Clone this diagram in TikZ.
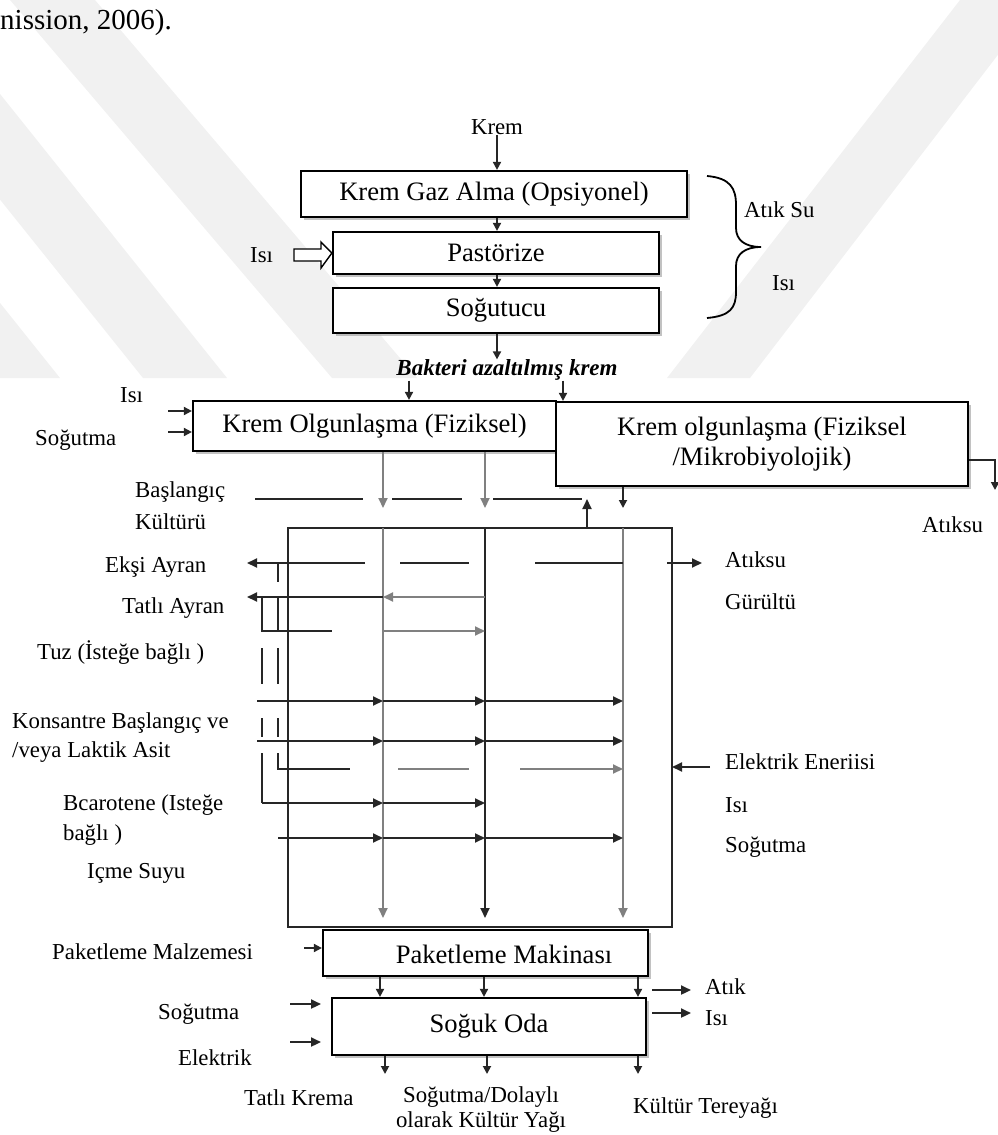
\documentclass[tikz,border=0pt]{standalone}
\usepackage{fontspec}
\setmainfont{Liberation Serif}
\usetikzlibrary{arrows.meta,shadows}
\definecolor{wmark}{HTML}{F1F1F1}
\begin{document}
\begin{tikzpicture}[x=1pt,y=-1pt,
  lbl/.style={font=\fontsize{22.8}{26}\selectfont, inner sep=0pt, anchor=west},
  boxtxt/.style={font=\fontsize{26.6}{30}\selectfont},
  procbox/.style={draw, line width=2.2pt, fill=white, inner sep=0pt,
    drop shadow={shadow xshift=3pt, shadow yshift=-3pt, fill=black!40, opacity=.6}},
  tip/.style={-{Triangle[length=10pt,width=9pt]}},
  smalltip/.style={-{Triangle[length=8pt,width=8pt]}},
  ln/.style={line width=1.8pt, draw=black!85},
  lng/.style={line width=2pt, draw=black!50},
  band/.style={fill=wmark, draw=none},
]
\useasboundingbox (0,0) rectangle (998,1135);

% faint diagonal stripes of the page background
\begin{scope}
  \clip (0,0) rectangle (998,378);
  \fill[band] (-302,0) -- (-242,0) -- (60,378) -- (0,378) -- cycle;
  \fill[band] (-160,0) -- (-75,0) -- (227,378) -- (143,378) -- cycle;
  \fill[band] (10,0) -- (95,0) -- (417,378) -- (332,378) -- cycle;
  \fill[band] (960,0) -- (1040,0) -- (750,378) -- (667,378) -- cycle;
\end{scope}

% running text above the figure
\node[font=\fontsize{29}{33}\selectfont, inner sep=0pt, anchor=base west] (cite) at (0,29) {nission, 2006).};

% ---------- upper process chain ----------
\node[lbl, anchor=center] (krem) at (497,127) {Krem};
\node[procbox, boxtxt, minimum width=386pt, minimum height=46pt] (gaz) at (494,194) {Krem Gaz Alma (Opsiyonel)};
\node[procbox, boxtxt, minimum width=326pt, minimum height=42pt] (past) at (496,253) {Pastörize};
\node[procbox, boxtxt, minimum width=326pt, minimum height=45pt] (sog) at (496,310.5) {Soğutucu};
\node[font=\bfseries\itshape\fontsize{23}{26}\selectfont, inner sep=0pt] (bak) at (507,370) {Bakteri azaltılmış krem};

\draw[ln,smalltip] (krem.south) -- (krem.south |- gaz.north);
\draw[ln,smalltip] (krem.south |- gaz.south) -- (krem.south |- past.north);
\draw[ln,smalltip] (krem.south |- past.south) -- (krem.south |- sog.north);
\draw[ln,smalltip] (krem.south |- sog.south) -- (krem.south |- bak.north);

% heat input to the pasteuriser (hollow arrow)
\node[lbl] (isiP) at (250,255) {Isı};
\draw[line width=1.4pt, fill=white]
  (294,249) -- (321,249) -- (321,242) -- (past.west) -- (321,268) -- (321,261) -- (294,261) -- cycle;

% brace with outputs of the first three steps
\draw[line width=1.8pt]
  (707,176) .. controls (730,178) and (736,188) .. (736,205) -- (736,228)
  .. controls (736,240) and (745,247) .. (761,247)
  .. controls (745,247) and (736,254) .. (736,266) -- (736,292)
  .. controls (736,308) and (730,316) .. (707,318);
\node[lbl] (atiksu1) at (744,210) {Atık Su};
\node[lbl] (isiB) at (772,283) {Isı};

% ---------- ripening ----------
\node[procbox, boxtxt, minimum width=363pt, minimum height=50pt] (fiz) at (374.5,426) {Krem Olgunlaşma (Fiziksel)};
\node[procbox, boxtxt, minimum width=412pt, minimum height=84pt, align=center] (mik) at (762,444)
  {Krem olgunlaşma (Fiziksel\\/Mikrobiyolojik)};

\coordinate (bx1) at (409,0);
\coordinate (bx2) at (563,0);
\draw[ln,smalltip] (bx1 |- bak.south) -- (bx1 |- fiz.north);
\draw[ln,smalltip] (bx2 |- bak.south) -- (bx2 |- mik.north);

\node[lbl] (isiF) at (120,395) {Isı};
\node[lbl] (sogF) at (35,440) {Soğutma};
\coordinate (isiIn) at (168,411);
\coordinate (sogIn) at (168,432);
\draw[ln,smalltip] (isiIn) -- (isiIn -| fiz.west);
\draw[ln,smalltip] (sogIn) -- (sogIn -| fiz.west);

\coordinate (mikCorner) at (995,460);
\coordinate (mikOut) at (995,490);
\draw[ln,smalltip] (mikCorner -| mik.east) -- (mikCorner) -- (mikOut);
\node[lbl] (atiksu2) at (922,525) {Atıksu};

% ---------- grid of columns and rows ----------
\coordinate (leftTip) at (247,0);
\coordinate (inStart) at (257,0);
\coordinate (pipeA) at (262,0);
\coordinate (pipeB) at (278,0);
\coordinate (frameL) at (288,0);
\coordinate (c1) at (383,0);
\coordinate (c2) at (485,0);
\coordinate (c3) at (623,0);
\coordinate (frameR) at (672,0);
\coordinate (upA) at (587,0);
\coordinate (outA) at (667,0);
\coordinate (outB) at (702,0);
\coordinate (elA) at (710,0);
\coordinate (g1) at (365,0);
\coordinate (g2) at (400,0);
\coordinate (g3) at (469,0);
\coordinate (g4) at (535,0);
\coordinate (g5) at (332,0);
\coordinate (g6) at (350,0);
\coordinate (g7) at (398,0);
\coordinate (g8) at (520,0);
\coordinate (b1) at (255,0);
\coordinate (b2) at (363,0);
\coordinate (b3) at (392,0);
\coordinate (b4) at (462,0);
\coordinate (b5) at (493,0);
\coordinate (b6) at (582,0);

\coordinate (rStart) at (0,499);
\coordinate (rArr) at (0,508);
\coordinate (rTop) at (0,528);
\coordinate (rEksi) at (0,563);
\coordinate (rT1) at (0,582);
\coordinate (rTatli) at (0,597);
\coordinate (rTuz) at (0,631);
\coordinate (rT2) at (0,648);
\coordinate (rT3) at (0,684);
\coordinate (rK1) at (0,701);
\coordinate (rT4) at (0,718);
\coordinate (rT5) at (0,737);
\coordinate (rK2) at (0,741);
\coordinate (rT6) at (0,753);
\coordinate (rEl) at (0,767);
\coordinate (rK3) at (0,769);
\coordinate (rCar) at (0,803);
\coordinate (rSu) at (0,838);
\coordinate (rEnd) at (0,918);
\coordinate (rBot) at (0,927);

% starter culture line and feeds into the mixing block
\node[lbl] (bas1) at (135,492) {Başlangıç};
\node[lbl] (bas2) at (135,522) {Kültürü};
\draw[ln] (b1 |- rStart) -- (b2 |- rStart);
\draw[ln] (b3 |- rStart) -- (b4 |- rStart);
\draw[ln] (b5 |- rStart) -- (b6 |- rStart);
\draw[lng,tip] (c1 |- fiz.south) -- (c1 |- rArr);
\draw[lng,tip] (c2 |- fiz.south) -- (c2 |- rArr);
\draw[ln,smalltip] (c3 |- mik.south) -- (c3 |- rArr);
\draw[ln,tip] (upA |- rTop) -- (upA |- rStart);

% mixing / churning block
\draw[ln] (frameL |- rBot) -- (frameL |- rTop) -- (frameR |- rTop) -- (frameR |- rBot) -- cycle;
\draw[lng,tip] (c1 |- rTop) -- (c1 |- rEnd);
\draw[ln,tip] (c2 |- rTop) -- (c2 |- rEnd);
\draw[lng,tip] (c3 |- rTop) -- (c3 |- rEnd);

% sour buttermilk
\node[lbl] (eksi) at (105,567) {Ekşi Ayran};
\draw[ln,tip] (g1 |- rEksi) -- (leftTip |- rEksi);
\draw[ln] (g2 |- rEksi) -- (g3 |- rEksi);
\draw[ln] (g4 |- rEksi) -- (c3 |- rEksi);
\draw[ln,tip] (outA |- rEksi) -- (outB |- rEksi);
\draw[ln] (pipeB |- rEksi) -- (pipeB |- rT1);

% sweet buttermilk
\node[lbl] (tatli) at (122,608) {Tatlı Ayran};
\draw[lng,tip] (c2 |- rTatli) -- (c1 |- rTatli);
\draw[ln,tip] (c1 |- rTatli) -- (leftTip |- rTatli);
\draw[ln] (pipeA |- rTatli) -- (pipeA |- rTuz) -- (g5 |- rTuz);
\draw[ln] (pipeB |- rTatli) -- (pipeB |- rTuz);
\draw[lng,tip] (c1 |- rTuz) -- (c2 |- rTuz);

% salt
\node[lbl] (tuz) at (37,653) {Tuz (İsteğe bağlı )};
\draw[ln] (pipeA |- rT2) -- (pipeA |- rT3);
\draw[ln] (pipeB |- rT2) -- (pipeB |- rT3);

% concentrated starter / lactic acid
\node[lbl] (kon1) at (12,723) {Konsantre Başlangıç ve};
\node[lbl] (kon2) at (12,752) {/veya Laktik Asit};
\draw[ln,tip] (inStart |- rK1) -- (c1 |- rK1);
\draw[ln,tip] (c1 |- rK1) -- (c2 |- rK1);
\draw[ln,tip] (c2 |- rK1) -- (c3 |- rK1);
\draw[ln] (pipeA |- rT4) -- (pipeA |- rT5);
\draw[ln] (pipeB |- rT4) -- (pipeB |- rT5);
\draw[ln,tip] (inStart |- rK2) -- (c1 |- rK2);
\draw[ln,tip] (c1 |- rK2) -- (c2 |- rK2);
\draw[ln,tip] (c2 |- rK2) -- (c3 |- rK2);
\draw[ln] (pipeB |- rT6) -- (pipeB |- rK3) -- (g6 |- rK3);
\draw[lng] (g7 |- rK3) -- (g3 |- rK3);
\draw[lng,tip] (g8 |- rK3) -- (c3 |- rK3);

% beta carotene
\node[lbl] (car1) at (63,805) {Bcarotene (Isteğe};
\node[lbl] (car2) at (63,835) {bağlı )};
\draw[ln] (pipeA |- rT6) -- (pipeA |- rCar);
\draw[ln,tip] (pipeA |- rCar) -- (c1 |- rCar);
\draw[ln,tip] (c1 |- rCar) -- (c2 |- rCar);

% drinking water
\node[lbl] (su) at (87,873) {Içme Suyu};
\draw[ln,tip] (pipeB |- rSu) -- (c1 |- rSu);
\draw[ln,tip] (c1 |- rSu) -- (c2 |- rSu);
\draw[ln,tip] (c2 |- rSu) -- (c3 |- rSu);

% right-hand inputs and outputs of the block
\node[lbl] (atiksu3) at (725,560) {Atıksu};
\node[lbl] (gurultu) at (725,602) {Gürültü};
\node[lbl] (elek) at (725,762) {Elektrik Eneriisi};
\node[lbl] (isiM) at (725,805) {Isı};
\node[lbl] (sogM) at (725,847) {Soğutma};
\draw[ln,tip] (elA |- rEl) -- (frameR |- rEl);

% ---------- packaging and cold store ----------
\node[procbox, minimum width=325pt, minimum height=46pt] (pak) at (485.5,953) {};
\node[boxtxt, inner sep=0pt] (paktxt) at (504,954) {Paketleme Makinası};
\node[lbl] (malz) at (52,952) {Paketleme Malzemesi};
\coordinate (malzIn) at (304,948);
\draw[ln,smalltip] (malzIn) -- (malzIn -| pak.west);

\node[procbox, boxtxt, minimum width=314pt, minimum height=57pt] (oda) at (489,1026.5) {Soğuk Oda};

\coordinate (p1) at (380,0);
\coordinate (p2) at (484,0);
\coordinate (p3) at (638,0);
\draw[ln,smalltip] (p1 |- pak.south) -- (p1 |- oda.north);
\draw[ln,smalltip] (p2 |- pak.south) -- (p2 |- oda.north);
\draw[ln,smalltip] (p3 |- pak.south) -- (p3 |- oda.north);

\node[lbl] (sogO) at (158,1014) {Soğutma};
\node[lbl] (elO) at (178,1058) {Elektrik};
\coordinate (sogOa) at (290,1004);
\coordinate (sogOb) at (321,1004);
\coordinate (elOa) at (290,1042);
\coordinate (elOb) at (321,1042);
\draw[line width=2.2pt, draw=black!85, tip] (sogOa) -- (sogOb);
\draw[line width=2.2pt, draw=black!85, tip] (elOa) -- (elOb);

\node[lbl] (atik) at (705,987) {Atık};
\node[lbl] (isiO) at (705,1018) {Isı};
\coordinate (atikA) at (652,990);
\coordinate (atikB) at (691,990);
\coordinate (isiOa) at (652,1013);
\coordinate (isiOb) at (691,1013);
\draw[line width=2.2pt, draw=black!85, tip] (atikA) -- (atikB);
\draw[line width=2.2pt, draw=black!85, tip] (isiOa) -- (isiOb);

% products
\coordinate (o1) at (385,1074);
\coordinate (o2) at (487,1074);
\coordinate (o3) at (638,1074);
\draw[ln,smalltip] (o1 |- oda.south) -- (o1);
\draw[ln,smalltip] (o2 |- oda.south) -- (o2);
\draw[ln,smalltip] (o3 |- oda.south) -- (o3);
\node[lbl] (krema) at (244,1098) {Tatlı Krema};
\node[lbl, anchor=center, align=center, font=\fontsize{22.8}{25}\selectfont] (yag) at (481,1110)
  {Soğutma/Dolaylı\\olarak Kültür Yağı};
\node[lbl] (tereyag) at (633,1108) {Kültür Tereyağı};
\end{tikzpicture}
\end{document}
